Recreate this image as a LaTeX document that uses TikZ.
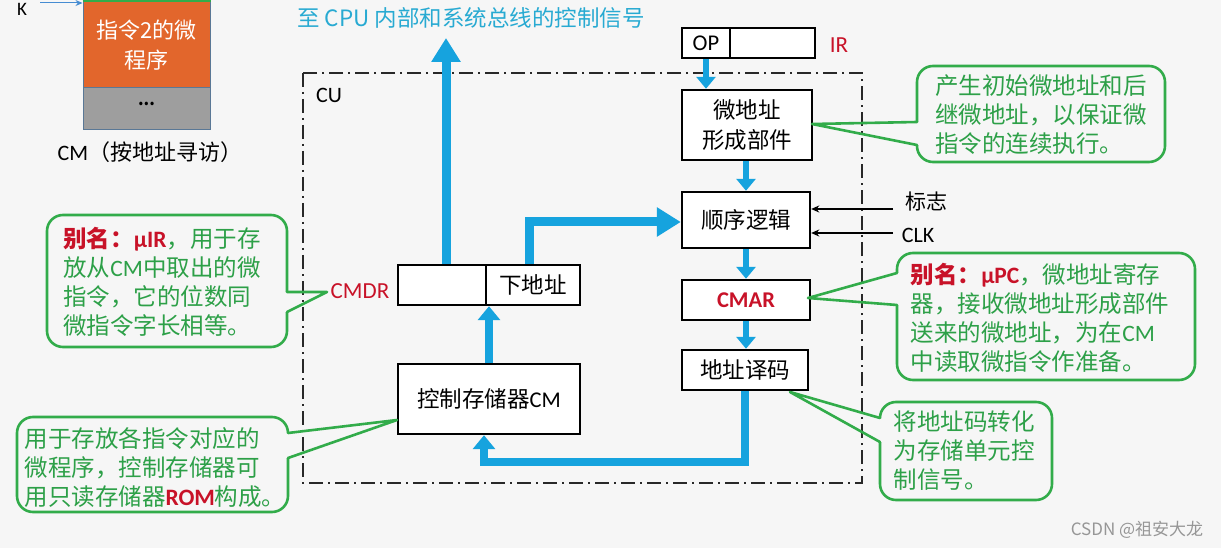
\documentclass[tikz,border=0pt]{standalone}
\usepackage{fontspec}
\setmainfont{Noto Sans CJK SC}
\newfontfamily\lat{Carlito}
\usetikzlibrary{arrows.meta,calc}
\definecolor{bg}{RGB}{246,246,246}
\definecolor{bluea}{RGB}{22,163,222}
\definecolor{titlec}{RGB}{40,170,210}
\definecolor{gline}{RGB}{50,172,74}
\definecolor{gtext}{RGB}{45,160,72}
\definecolor{redc}{RGB}{200,18,40}
\definecolor{orangec}{RGB}{226,102,44}
\definecolor{grayc}{RGB}{158,158,158}
\definecolor{dashc}{RGB}{40,40,40}
\newcommand{\myfs}[2]{\fontsize{#1}{#2}\selectfont}
\newcommand{\rb}[1]{\textcolor{redc}{\bfseries #1}}
\newcommand{\la}[1]{{\lat #1}}
\begin{document}
\begin{tikzpicture}[x=1pt,y=-1pt,
  box/.style={draw=black, line width=2.4pt, fill=white, inner sep=0pt, font=\myfs{22.5}{30}, align=center},
  smarr/.style={draw=bluea, line width=6pt, -{Triangle[length=12pt,width=19pt]}},
  midarr/.style={draw=bluea, line width=8pt, line join=miter, -{Triangle[length=14pt,width=22pt]}},
  bigarr/.style={draw=bluea, line width=9pt, line join=miter, -{Triangle[length=24pt,width=28pt]}},
  thinarr/.style={draw=black, line width=1.4pt, -{Stealth[length=8pt,width=7pt]}},
  cbox/.style={draw=gline, line width=2.6pt, rounded corners=16pt},
  cerase/.style={draw=bg, line width=5pt},
  cptr/.style={draw=gline, line width=2.6pt, line cap=round, line join=round},
  ctext/.style={text=gtext, font=\myfs{23.5}{29}, align=left, inner sep=0pt},
  cudash/.style={draw=dashc, line width=2pt, dash pattern=on 14pt off 5pt on 2pt off 5pt}
]
\useasboundingbox (0,0) rectangle (1221,548);
\clip (0,0) rectangle (1221,548);
\fill[bg] (0,0) rectangle (1221,548);

% ---- top-left CM excerpt
\node[draw={rgb,255:red,90;green,120;blue,150}, line width=1pt, fill=orangec, minimum width=127pt, minimum height=92pt, inner sep=0pt] (cmo) at (146.5,42) {};
\node[draw={rgb,255:red,90;green,120;blue,150}, line width=1pt, fill=grayc, minimum width=127pt, minimum height=42pt, inner sep=0pt] (cmg) at (146.5,109) {};
\draw[gline, line width=2pt] (cmo.north west |- 0,1) -- (cmo.north east |- 0,1);
\node[text=white, font=\myfs{22}{30}, align=center] (cmt) at (146.5,45) {指令2的微\\程序};
\node[font=\myfs{16}{18}] (dots) at (146.5,104) {\textbf{...}};
\node[font=\myfs{22}{26}] (cmcap) at (150,152) {\la{CM}（按地址寻访）};
\node[font=\myfs{19}{22}, inner sep=0pt] (kl) at (22,9) {\lat K};
\coordinate (ka) at (40,3);
\draw[draw={rgb,255:red,70;green,140;blue,210}, line width=1pt, -{Stealth[length=7pt,width=6pt]}] (ka) -- (ka -| cmo.west);

% ---- title
\node[text=titlec, font=\myfs{22.5}{26}] (title) at (471,18) {至 CPU 内部和系统总线的控制信号};

% ---- CU border
\draw[cudash] (303,73) rectangle (862,483);
\node[font=\myfs{22}{26}] (cu) at (329,95) {\lat CU};

% ---- IR
\node[box, minimum width=48pt, minimum height=30pt] (irop) at (706,43) {\lat OP};
\node[box, minimum width=85pt, minimum height=30pt] (irrest) at (772.5,43) {};
\node[text=redc, font=\myfs{23}{26}] (irlab) at (839,45) {\lat IR};

% ---- right column
\node[box, minimum width=130pt, minimum height=70pt] (mform) at (747,125) {微地址\\形成部件};
\node[box, minimum width=128pt, minimum height=56pt] (seq) at (746,220) {顺序逻辑};
\node[box, minimum width=128pt, minimum height=40pt, text=redc] (cmar) at (746,300) {\lat\bfseries CMAR};
\node[box, minimum width=126pt, minimum height=40pt] (dec) at (745,370) {地址译码};

% ---- left column
\node[box, minimum width=88pt, minimum height=40pt] (cmdrl) at (442,285) {};
\node[box, minimum width=94pt, minimum height=40pt] (cmdrr) at (533,285) {下地址};
\node[text=redc, font=\myfs{23}{26}] (cmdrlab) at (360,291) {\lat CMDR};
\node[box, minimum width=182pt, minimum height=70pt] (cm) at (489,399) {控制存储器\la{CM}};

% ---- flags
\node[font=\myfs{21}{24}] (flag) at (926,202) {标志};
\node[font=\myfs{22}{24}] (clk) at (918,235) {\lat CLK};
\coordinate (fa) at (893,209);
\coordinate (ca) at (893,233);
\draw[thinarr] (fa) -- (fa -| seq.east);
\draw[thinarr] (ca) -- (ca -| seq.east);

% ---- blue connectors
\draw[smarr] (irop.south) -- (irop.south |- mform.north);
\draw[smarr] (seq.north |- mform.south) -- (seq.north);
\draw[smarr] (seq.south) -- (cmar.north);
\draw[smarr] (cmar.south) -- (cmar.south |- dec.north);
\coordinate (lp) at (484,462);
\draw[midarr] (dec.south) |- (lp) -- (lp |- cm.south);
\draw[midarr] (cm.north) -- (cm.north |- cmdrr.south);
\coordinate (upc) at (446,38);
\draw[bigarr] (upc |- cmdrl.north) -- (upc);
\coordinate (turn) at (529,222);
\draw[bigarr] (turn |- cmdrr.north) -- (turn) -- (turn -| seq.west);

% ---- callout 1 (微地址形成部件)
\draw[cbox] (917,66) rectangle (1165,162);
\draw[cerase] (917,122) -- (917,145);
\coordinate (t1) at (812,124);
\draw[cptr] (917,122) -- (t1) -- (917,145);
\node[ctext] (c1) at (1041,115) {产生初始微地址和后\\继微地址，以保证微\\指令的连续执行。};

% ---- callout 2 (CMAR)
\draw[cbox] (897,253) rectangle (1195,380);
\draw[cerase] (897,273) -- (897,305);
\coordinate (t2) at (808,298);
\draw[cptr] (897,273) -- (t2) -- (897,305);
\node[ctext] (c2) at (1040,318) {\rb{别名：\la{μPC}}，微地址寄存\\器，接收微地址形成部件\\送来的微地址，为在\la{CM}\\中读取微指令作准备。};

% ---- callout 3 (CMDR)
\draw[cbox] (47,215) rectangle (287,347);
\draw[cerase] (287,292) -- (287,312);
\coordinate (t3) at (327,292);
\draw[cptr] (287,292) -- (t3) -- (287,312);
\node[ctext] (c3) at (162,282) {\rb{别名：\la{μIR}}，用于存\\放从\la{CM}中取出的微\\指令，它的位数同\\微指令字长相等。};

% ---- callout 4 (CM)
\draw[cbox] (17,417) rectangle (288,512);
\draw[cerase] (288,433) -- (288,458);
\coordinate (t4) at (397,420);
\draw[cptr] (288,433) -- (t4) -- (288,458);
\node[ctext] (c4) at (155,468) {用于存放各指令对应的\\微程序，控制存储器可\\用只读存储器\rb{\la{ROM}}构成。};

% ---- callout 5 (地址译码)
\draw[cbox] (880,402) rectangle (1052,500);
\draw[cerase] (880,418) -- (880,442);
\coordinate (t5) at (790,392);
\draw[cptr] (880,418) -- (t5) -- (880,442);
\node[ctext] (c5) at (964,451) {将地址码转化\\为存储单元控\\制信号。};

% ---- watermark
\node[text={rgb,255:red,150;green,150;blue,150}, font=\myfs{17}{20}] (wm) at (1137,530) {CSDN @祖安大龙};
\end{tikzpicture}
\end{document}
